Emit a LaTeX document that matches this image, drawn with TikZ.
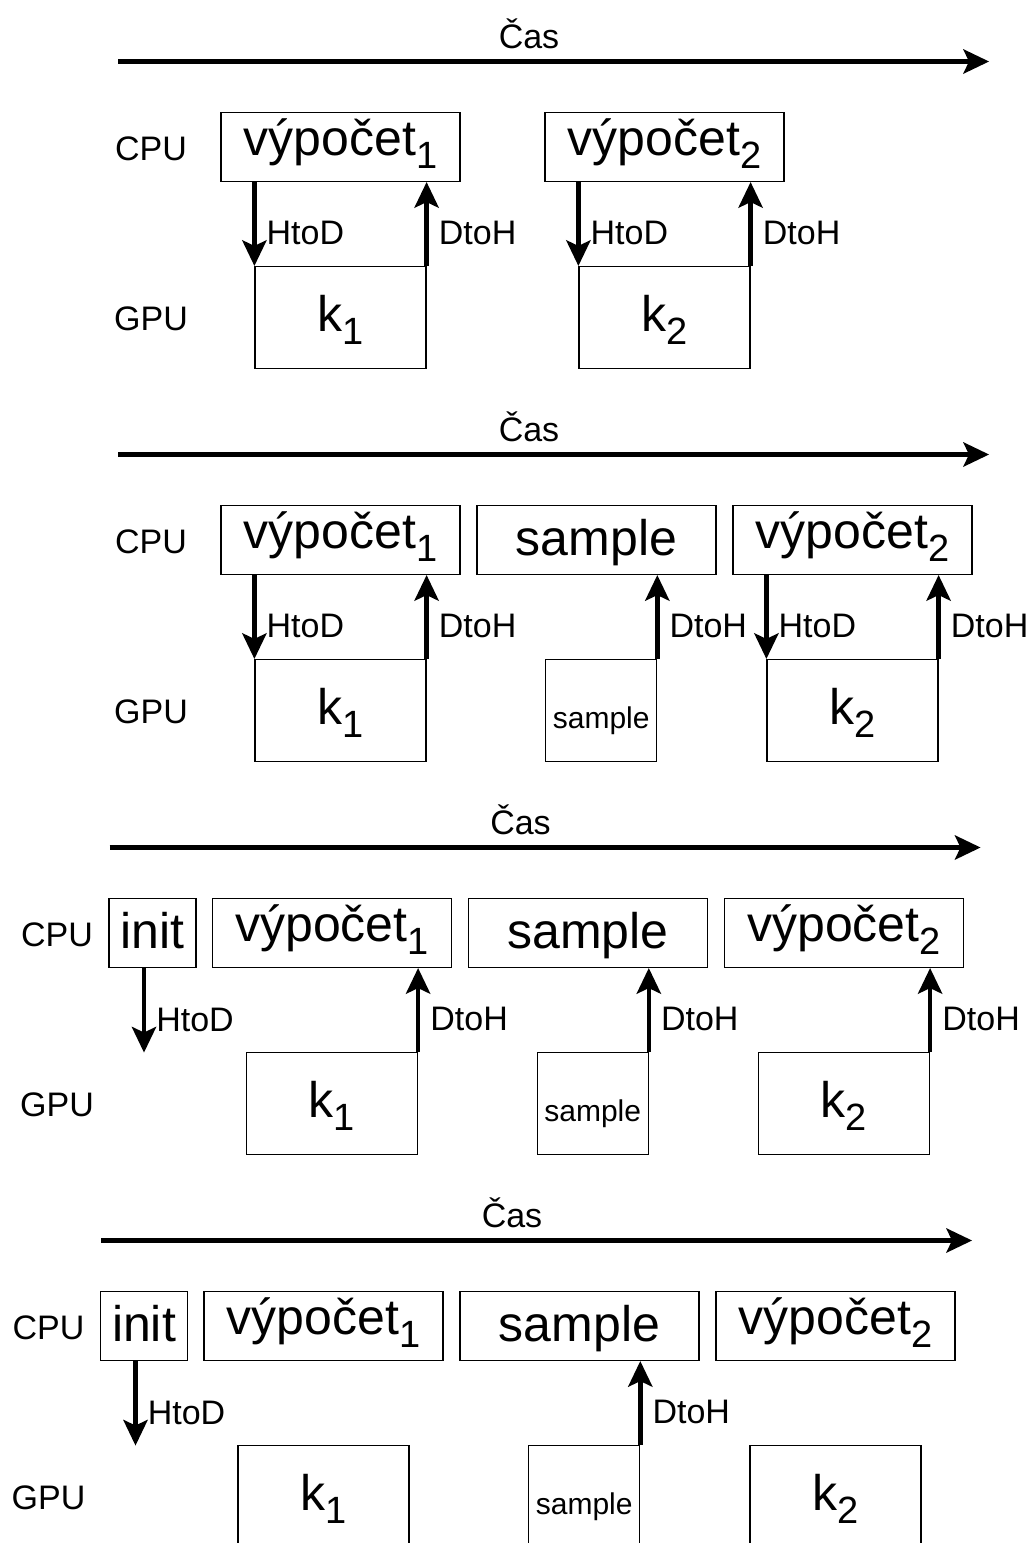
\documentclass[tikz,border=0pt]{standalone}
\usepackage{fontspec}
\setmainfont{Liberation Sans}
\usetikzlibrary{arrows.meta}

% lowered index inside a box label
\newcommand{\lo}[1]{\raisebox{-13pt}{\fontsize{38}{38}\selectfont #1}}

\begin{document}
\begin{tikzpicture}[x=1pt, y=-1pt,
    lane/.style={inner sep=0, anchor=base, font=\fontsize{34}{40}\selectfont},
    task/.style={draw, line width=1.2pt, inner sep=0, minimum width=239pt, minimum height=69pt,
      font=\fontsize{50}{60}\selectfont, text height=28pt, text depth=12pt},
    word/.style={task, text height=35pt, text depth=5pt},
    kbox/.style={draw, line width=1.2pt, inner sep=0, minimum width=171pt, minimum height=102pt,
      font=\fontsize{50}{60}\selectfont, text height=34pt, text depth=6pt},
    smp/.style={kbox, minimum width=111pt, font=\fontsize{30}{36}\selectfont, text height=38pt, text depth=2pt},
    xfer/.style={line width=4.5pt, -{Stealth[length=26pt, width=25pt, inset=6pt, line width=0pt]}},
    xlbl/.style={inner sep=0, anchor=base west, xshift=10pt, font=\fontsize{34}{40}\selectfont}]
  \useasboundingbox (0,0) rectangle (1032,1543);
  \clip (0,0) rectangle (1032,1543);

  % synchronni kopie
  \begin{scope}
    \node[lane] (casA) at (529,48) {Čas};
    \coordinate (tA0) at (118,61.5);
    \coordinate (tA1) at (989,61.5);
    \draw[xfer] (tA0) -- (tA1);
    \node[lane] (cpuA) at (151,160) {CPU};
    \node[lane] (gpuA) at (151,330) {GPU};
    \node[task] (vA1) at (340.5,147) {výpočet\lo{1}};
    \node[task] (vA2) at (664.5,147) {výpočet\lo{2}};
    \node[kbox] (kA1) at (340.5,317.5) {k\lo{1}};
    \node[kbox] (kA2) at (664.5,317.5) {k\lo{2}};
    \draw[xfer] (kA1.north west |- vA1.south) -- (kA1.north west) node[xlbl, pos=.75] {HtoD};
    \draw[xfer] (kA1.north east) -- (kA1.north east |- vA1.south) node[xlbl, pos=.25] {DtoH};
    \draw[xfer] (kA2.north west |- vA2.south) -- (kA2.north west) node[xlbl, pos=.75] {HtoD};
    \draw[xfer] (kA2.north east) -- (kA2.north east |- vA2.south) node[xlbl, pos=.25] {DtoH};
  \end{scope}

  % se samplem
  \begin{scope}[yshift=-393pt]
    \node[lane] (casB) at (529,48) {Čas};
    \coordinate (tB0) at (118,61.5);
    \coordinate (tB1) at (989,61.5);
    \draw[xfer] (tB0) -- (tB1);
    \node[lane] (cpuB) at (151,160) {CPU};
    \node[lane] (gpuB) at (151,330) {GPU};
    \node[task] (vB1) at (340.5,147) {výpočet\lo{1}};
    \node[word] (sB)  at (596.5,147) {sample};
    \node[task] (vB2) at (852.5,147) {výpočet\lo{2}};
    \node[kbox] (kB1) at (340.5,317.5) {k\lo{1}};
    \node[smp]  (gB)  at (601.2,317.5) {sample};
    \node[kbox] (kB2) at (852.5,317.5) {k\lo{2}};
    \draw[xfer] (kB1.north west |- vB1.south) -- (kB1.north west) node[xlbl, pos=.75] {HtoD};
    \draw[xfer] (kB1.north east) -- (kB1.north east |- vB1.south) node[xlbl, pos=.25] {DtoH};
    \draw[xfer] (gB.north east) -- (gB.north east |- sB.south) node[xlbl, pos=.25] {DtoH};
    \draw[xfer] (kB2.north west |- vB2.south) -- (kB2.north west) node[xlbl, pos=.75] {HtoD};
    \draw[xfer] (kB2.north east) -- (kB2.north east |- vB2.south) node[xlbl, pos=.25] {DtoH};
  \end{scope}

  % init na zacatku
  \begin{scope}[xshift=-8.5pt, yshift=-786pt]
    \node[lane] (casC) at (529,48) {Čas};
    \coordinate (tC0) at (118,61.5);
    \coordinate (tC1) at (989,61.5);
    \draw[xfer] (tC0) -- (tC1);
    \node[lane] (cpuC) at (65.5,160) {CPU};
    \node[lane] (gpuC) at (65.5,330) {GPU};
    \node[word, minimum width=87pt] (iC) at (161,147) {init};
    \node[task] (vC1) at (340.5,147) {výpočet\lo{1}};
    \node[word] (sC)  at (596.5,147) {sample};
    \node[task] (vC2) at (852.5,147) {výpočet\lo{2}};
    \node[kbox] (kC1) at (340.5,317.5) {k\lo{1}};
    \node[smp]  (gC)  at (601.2,317.5) {sample};
    \node[kbox] (kC2) at (852.5,317.5) {k\lo{2}};
    \coordinate (dC) at (152.5,266.5);
    \draw[xfer] (dC |- iC.south) -- (dC) node[xlbl, pos=.75] {HtoD};
    \draw[xfer] (kC1.north east) -- (kC1.north east |- vC1.south) node[xlbl, pos=.25] {DtoH};
    \draw[xfer] (gC.north east) -- (gC.north east |- sC.south) node[xlbl, pos=.25] {DtoH};
    \draw[xfer] (kC2.north east) -- (kC2.north east |- vC2.south) node[xlbl, pos=.25] {DtoH};
  \end{scope}

  % jen sample zpet
  \begin{scope}[xshift=-17pt, yshift=-1179pt]
    \node[lane] (casD) at (529,48) {Čas};
    \coordinate (tD0) at (118,61.5);
    \coordinate (tD1) at (989,61.5);
    \draw[xfer] (tD0) -- (tD1);
    \node[lane] (cpuD) at (65.5,160) {CPU};
    \node[lane] (gpuD) at (65.5,330) {GPU};
    \node[word, minimum width=87pt] (iD) at (161,147) {init};
    \node[task] (vD1) at (340.5,147) {výpočet\lo{1}};
    \node[word] (sD)  at (596.5,147) {sample};
    \node[task] (vD2) at (852.5,147) {výpočet\lo{2}};
    \node[kbox] (kD1) at (340.5,317.5) {k\lo{1}};
    \node[smp]  (gD)  at (601.2,317.5) {sample};
    \node[kbox] (kD2) at (852.5,317.5) {k\lo{2}};
    \coordinate (dD) at (152.5,266.5);
    \draw[xfer] (dD |- iD.south) -- (dD) node[xlbl, pos=.75] {HtoD};
    \draw[xfer] (gD.north east) -- (gD.north east |- sD.south) node[xlbl, pos=.25] {DtoH};
  \end{scope}
\end{tikzpicture}
\end{document}
